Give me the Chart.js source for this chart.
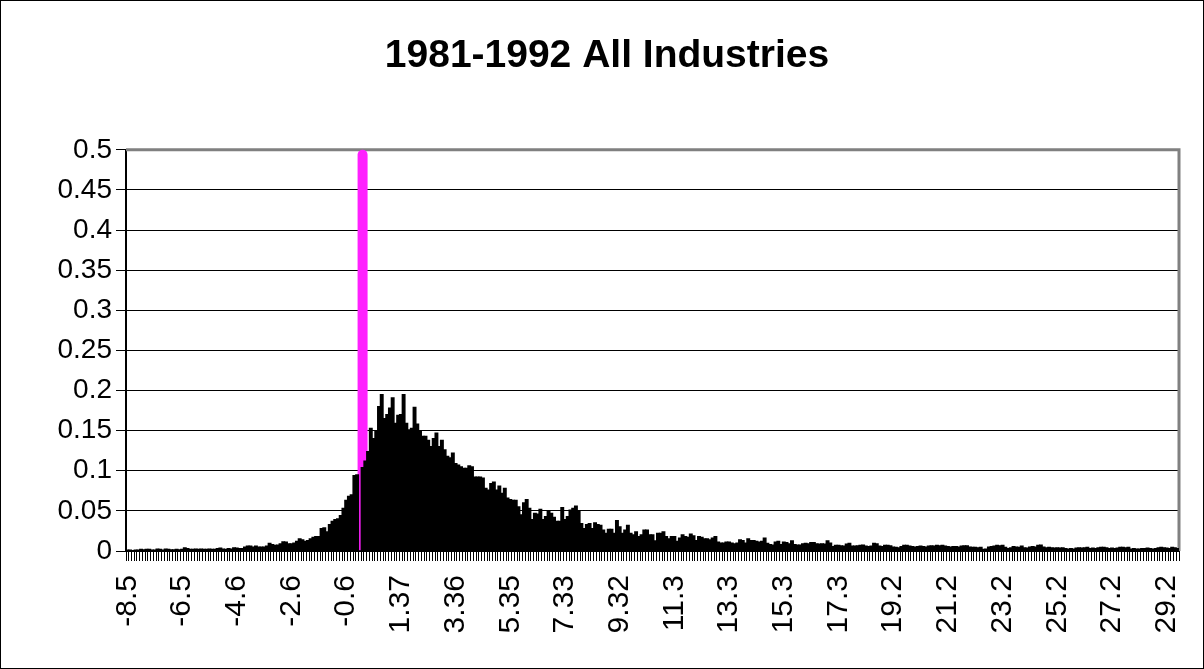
<!DOCTYPE html>
<html>
<head>
<meta charset="utf-8">
<script src="https://cdn.jsdelivr.net/npm/chart.js@4.4.1/dist/chart.umd.min.js"></script>
<style>
  html, body { margin: 0; padding: 0; background: #fff; }
  #wrap { width: 1204px; height: 669px; }
</style>
</head>
<body>
<div id="wrap"><canvas id="myChart" width="1204" height="669"></canvas></div>
<script>
// Etiquetas visibles del eje X (una cada 20 categorias)
const tickLabels = ['-8.5', '-6.5', '-4.6', '-2.6', '-0.6', '1.37', '3.36', '5.35', '7.33', '9.32',
  '11.3', '13.3', '15.3', '17.3', '19.2', '21.2', '23.2', '25.2', '27.2', '29.2'];
const labelEvery = 20;

// Frecuencia relativa de cada categoria
const frequencies = [
  0.001, 0.001, 0.0005, 0.001, 0.001, 0.002, 0.0015, 0.002, 0.002, 0.001,
  0.001, 0.0025, 0.002, 0.001, 0.0025, 0.002, 0.0015, 0.0015, 0.002, 0.0015,
  0.002, 0.004, 0.003, 0.002, 0.002, 0.0025, 0.002, 0.0025, 0.002, 0.002,
  0.0025, 0.002, 0.002, 0.003, 0.0035, 0.0025, 0.002, 0.003, 0.0025, 0.004,
  0.0035, 0.003, 0.003, 0.005, 0.006, 0.006, 0.005, 0.006, 0.005, 0.005,
  0.005, 0.006, 0.0095, 0.008, 0.007, 0.0075, 0.009, 0.0115, 0.011, 0.009,
  0.009, 0.01, 0.012, 0.015, 0.014, 0.012, 0.013, 0.015, 0.017, 0.018,
  0.018, 0.028, 0.029, 0.024, 0.033, 0.037, 0.039, 0.04, 0.044, 0.053,
  0.063, 0.068, 0.07, 0.094, 0.095, 0, 0.104, 0.112, 0.124, 0.153,
  0.14, 0.149, 0.18, 0.195, 0.165, 0.17, 0.178, 0.191, 0.159, 0.169,
  0.17, 0.195, 0.159, 0.151, 0.153, 0.179, 0.158, 0.149, 0.143, 0.143,
  0.138, 0.13, 0.14, 0.147, 0.13, 0.138, 0.126, 0.118, 0.116, 0.122,
  0.109, 0.107, 0.105, 0.103, 0.103, 0.106, 0.105, 0.092, 0.092, 0.092,
  0.091, 0.078, 0.076, 0.084, 0.086, 0.076, 0.081, 0.072, 0.078, 0.066,
  0.064, 0.063, 0.063, 0.055, 0.045, 0.06, 0.064, 0.053, 0.039, 0.047,
  0.046, 0.052, 0.039, 0.043, 0.05, 0.047, 0.042, 0.037, 0.037, 0.054,
  0.039, 0.043, 0.051, 0.053, 0.056, 0.049, 0.034, 0.028, 0.033, 0.034,
  0.028, 0.035, 0.033, 0.032, 0.026, 0.022, 0.027, 0.027, 0.022, 0.038,
  0.03, 0.022, 0.026, 0.032, 0.022, 0.02, 0.024, 0.018, 0.02, 0.026,
  0.026, 0.02, 0.02, 0.0125, 0.022, 0.022, 0.024, 0.018, 0.015, 0.018,
  0.018, 0.012, 0.016, 0.02, 0.018, 0.017, 0.021, 0.019, 0.013, 0.018,
  0.017, 0.015, 0.015, 0.014, 0.016, 0.018, 0.011, 0.01, 0.01, 0.011,
  0.011, 0.01, 0.009, 0.01, 0.014, 0.013, 0.01, 0.015, 0.013, 0.013,
  0.012, 0.011, 0.012, 0.016, 0.0095, 0.008, 0.0075, 0.011, 0.012, 0.008,
  0.011, 0.0105, 0.009, 0.0125, 0.008, 0.0075, 0.0075, 0.009, 0.0095, 0.009,
  0.0105, 0.0105, 0.009, 0.0085, 0.009, 0.0085, 0.0125, 0.01, 0.0055, 0.007,
  0.007, 0.0065, 0.006, 0.0085, 0.0095, 0.006, 0.006, 0.0065, 0.007, 0.0075,
  0.006, 0.0055, 0.006, 0.0095, 0.009, 0.006, 0.0055, 0.007, 0.007, 0.0065,
  0.005, 0.0045, 0.004, 0.0055, 0.007, 0.007, 0.006, 0.0055, 0.005, 0.0055,
  0.006, 0.0055, 0.005, 0.006, 0.0065, 0.006, 0.007, 0.0065, 0.007, 0.006,
  0.0055, 0.005, 0.0055, 0.0055, 0.005, 0.006, 0.0065, 0.0065, 0.005, 0.0045,
  0.0045, 0.004, 0.0045, 0.002, 0.0025, 0.005, 0.0055, 0.006, 0.007, 0.0065,
  0.007, 0.0045, 0.003, 0.004, 0.0055, 0.005, 0.0045, 0.006, 0.004, 0.0035,
  0.005, 0.0055, 0.005, 0.007, 0.0075, 0.005, 0.004, 0.0045, 0.004, 0.0035,
  0.004, 0.0035, 0.004, 0.003, 0.0025, 0.003, 0.0025, 0.0035, 0.004, 0.0035,
  0.004, 0.0045, 0.003, 0.0035, 0.003, 0.004, 0.0045, 0.0045, 0.004, 0.003,
  0.0035, 0.003, 0.0035, 0.0045, 0.0045, 0.004, 0.0045, 0.0025, 0.003, 0.0025,
  0.0025, 0.003, 0.003, 0.0035, 0.003, 0.0025, 0.003, 0.004, 0.0045, 0.004,
  0.0035, 0.003, 0.0045, 0.004, 0.003
];

// Linea vertical rosada
const markerIndex = 86;
const markerHeight = 0.5;

const categories = frequencies.map((_, i) => i % labelEvery === 0 ? tickLabels[i / labelEvery] : '');
const markerData = frequencies.map((_, i) => i === markerIndex ? markerHeight : null);

const FONT = "'Liberation Sans', Arial, sans-serif";

// Marco exterior y bordes grises del area de trazado (debajo de las barras)
const framePlugin = {
  id: 'frame',
  beforeDatasetsDraw(chart) {
    const { ctx, chartArea: a, width, height } = chart;
    ctx.save();
    ctx.strokeStyle = '#808080';
    ctx.lineWidth = 3;
    ctx.beginPath();
    ctx.moveTo(a.left, a.top);
    ctx.lineTo(a.right, a.top);
    ctx.lineTo(a.right, a.bottom);
    ctx.stroke();
    ctx.strokeStyle = '#000';
    ctx.lineWidth = 1;
    ctx.strokeRect(0.5, 0.5, width - 1, height - 1);
    ctx.restore();
  }
};

new Chart('myChart', {
  type: 'bar',
  data: {
    labels: categories,
    datasets: [{
      data: frequencies,
      backgroundColor: '#000',
      borderWidth: 0,
      inflateAmount: 0.6,
      barPercentage: 1,
      categoryPercentage: 1
    }, {
      data: markerData,
      backgroundColor: '#ff20ff',
      borderWidth: 0,
      inflateAmount: 0,
      grouped: false,
      barThickness: 10,
      clip: false,
      borderRadius: { topLeft: 5, topRight: 5 },
      borderSkipped: 'bottom'
    }]
  },
  options: {
    responsive: false,
    animation: false,
    layout: { padding: { left: 35, right: 25, top: 0, bottom: 0 } },
    plugins: {
      legend: { display: false },
      tooltip: { enabled: false },
      title: {
        display: true,
        text: '1981-1992 All Industries',
        color: '#000',
        font: { family: FONT, size: 39, weight: 'bold' },
        padding: { top: 33, bottom: 70 }
      }
    },
    scales: {
      x: {
        afterFit: (s) => {
          s.height = 118;
          s.paddingLeft = 0;
          s.paddingRight = 0;
        },
        grid: { display: true, drawOnChartArea: false, drawTicks: true, tickLength: 10, color: '#000', lineWidth: 1 },
        border: { color: '#000', width: 2 },
        ticks: {
          autoSkip: false,
          maxRotation: 90,
          minRotation: 90,
          padding: 14,
          color: '#000',
          font: { family: FONT, size: 30 }
        }
      },
      y: {
        min: 0,
        max: 0.5,
        afterFit: (s) => { s.width = 91; },
        grid: { color: '#000', lineWidth: 1, tickLength: 10, tickColor: '#000' },
        border: { color: '#000', width: 2 },
        ticks: {
          stepSize: 0.05,
          padding: 4,
          color: '#000',
          font: { family: FONT, size: 28 },
          callback: (v) => String(parseFloat(v.toFixed(2)))
        }
      }
    }
  },
  plugins: [framePlugin]
});
</script>
</body>
</html>
